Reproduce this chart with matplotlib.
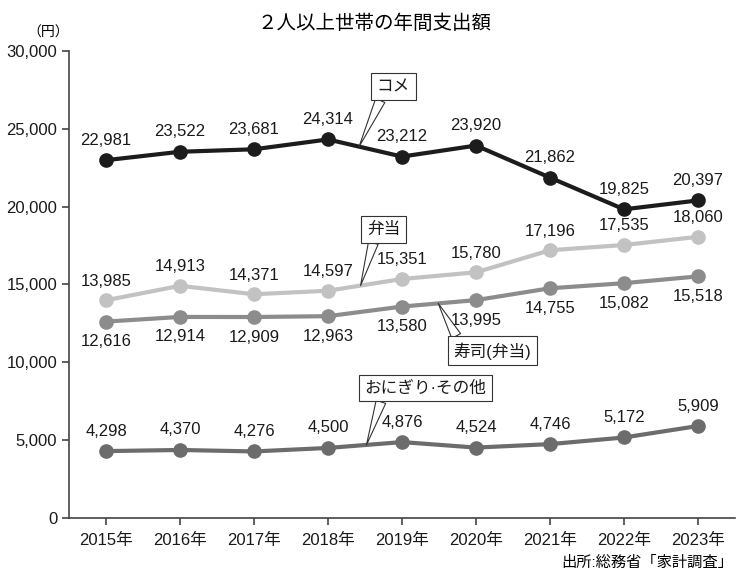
import numpy as np
import matplotlib
matplotlib.use("Agg")
import matplotlib.pyplot as plt

plt.rcParams["font.family"] = ["Liberation Sans", "Noto Sans CJK JP", "DejaVu Sans"]

years = ["2015年", "2016年", "2017年", "2018年", "2019年", "2020年", "2021年", "2022年", "2023年"]
rice = [22981, 23522, 23681, 24314, 23212, 23920, 21862, 19825, 20397]
bento = [13985, 14913, 14371, 14597, 15351, 15780, 17196, 17535, 18060]
sushi = [12616, 12914, 12909, 12963, 13580, 13995, 14755, 15082, 15518]
onigiri = [4298, 4370, 4276, 4500, 4876, 4524, 4746, 5172, 5909]
y_ticks = [0, 5000, 10000, 15000, 20000, 25000, 30000]

fig = plt.figure(figsize=(7.5, 5.85), dpi=100)
ax = fig.add_axes([0.092, 0.1145, 0.888, 0.7985])
x = np.arange(len(years))

# (values, colour, label offset px, callout text, box pos, pointer x, pointer base on box)
series = [
    (rice, "#1c1c1c", 20, "コメ", (3.88, 27700), 3.42, (0.2, 0)),
    (bento, "#c2c2c2", 19, "弁当", (3.75, 18550), 3.44, (0.25, 0)),
    (sushi, "#8c8c8c", -20, "寿司(弁当)", (5.22, 10730), 4.49, (0.08, 1)),
    (onigiri, "#6c6c6c", 20, "おにぎり·その他", (4.32, 8350), 3.52, (0.15, 0)),
]

for vals, color, dy, name, box, tip_x, rel in series:
    ax.plot(x, vals, color=color, lw=3, marker="o", ms=9.5, zorder=3)
    for xi, v in zip(x, vals):
        ax.annotate(f"{v:,}", (xi, v), xytext=(0, dy), textcoords="offset pixels",
                    ha="center", va="center", fontsize=12, color="#1a1a1a")
    tip_y = np.interp(tip_x, x, vals)
    ax.annotate(name, (tip_x, tip_y), xytext=box, ha="center", va="center",
                fontsize=12, color="#1a1a1a",
                bbox=dict(boxstyle="square,pad=0.35", fc="white", ec="#333333", lw=0.8),
                arrowprops=dict(arrowstyle="wedge,tail_width=0.6", fc="white",
                                ec="#333333", lw=0.8, shrinkA=0, shrinkB=0,
                                relpos=rel),
                zorder=5)

ax.set_xlim(-0.5, len(years) - 0.5)
ax.set_ylim(0, 30000)
ax.set_xticks(x)
ax.set_xticklabels(years, fontsize=12)
ax.set_yticks(y_ticks)
ax.set_yticklabels([f"{t:,}" for t in y_ticks], fontsize=12)
for side in ["top", "right"]:
    ax.spines[side].set_visible(False)
for side in ["left", "bottom"]:
    ax.spines[side].set_color("#444444")
    ax.spines[side].set_linewidth(1.2)
ax.tick_params(axis="both", colors="#444444", labelcolor="#1a1a1a", length=5, width=1.2)
ax.tick_params(axis="x", pad=6)

fig.text(0.5, 0.96, "２人以上世帯の年間支出額", ha="center", va="center", fontsize=14)
fig.text(0.064, 0.944, "（円）", ha="center", va="center", fontsize=10)
fig.text(0.977, 0.038, "出所:総務省「家計調査」", ha="right", va="center", fontsize=11)

fig.savefig("out.png", dpi=100)
